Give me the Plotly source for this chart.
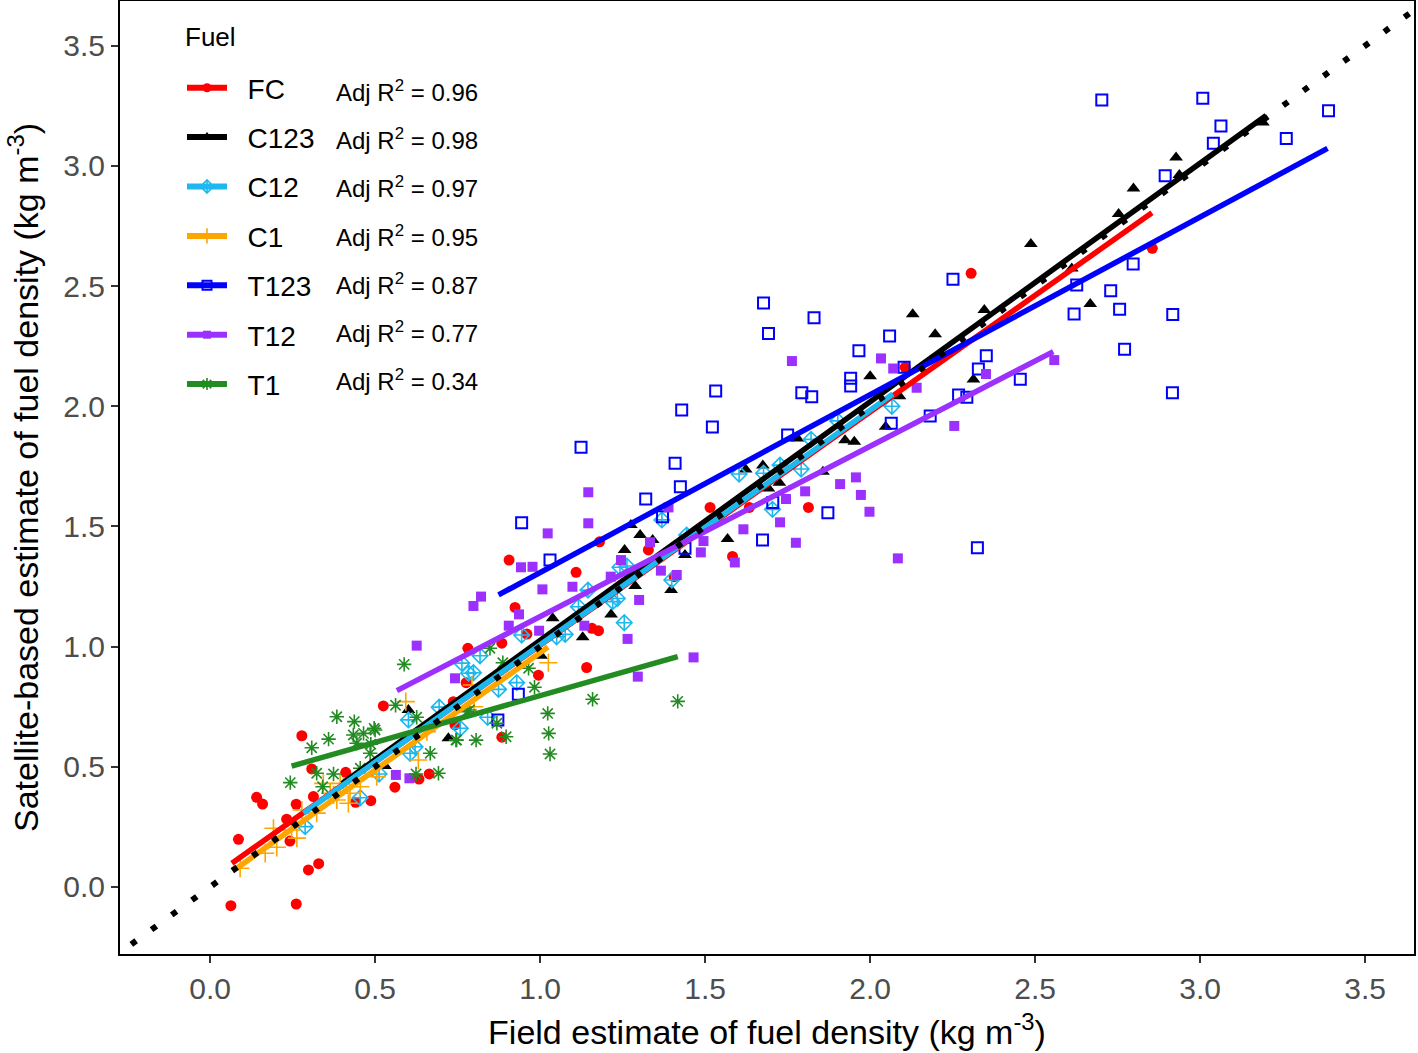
import plotly.graph_objects as go

# ---------------- data ----------------
groups = ["FC", "C123", "C12", "C1", "T123", "T12", "T1"]
adj_r2 = ["0.96", "0.98", "0.97", "0.95", "0.87", "0.77", "0.34"]
colors = ["#FF0000", "#000000", "#1DB8EE", "#FFA500", "#0000FF", "#9B30FF", "#228B22"]

fc_x = [0.525, 0.278, 0.308, 0.411, 0.141, 0.159, 0.261, 0.313, 0.232, 0.242, 0.086, 0.441, 0.487, 0.560,
        0.633, 0.664, 0.298, 0.329, 0.063, 0.261, 0.906, 0.924, 1.109, 1.18, 1.328, 1.515, 1.406, 1.157,
        1.177, 0.96, 0.781, 0.884, 0.995, 1.141, 0.776, 0.737, 0.742, 0.884, 1.583, 2.106, 2.306, 2.855,
        1.813, 1.634]
fc_y = [0.753, 0.629, 0.491, 0.477, 0.373, 0.345, 0.344, 0.376, 0.282, 0.191, 0.198, 0.352, 0.359, 0.415,
        0.449, 0.470, 0.071, 0.097, -0.078, -0.071, 1.36, 1.163, 1.309, 1.436, 1.402, 1.579, 1.291, 1.076,
        1.066, 1.052, 0.993, 1.014, 0.881, 0.913, 0.85, 0.771, 0.674, 0.623, 1.375, 2.162, 2.553, 2.657,
        1.579, 1.579]

c123_x = [0.601, 0.722, 0.53, 1.275, 1.303, 1.341, 1.256, 1.439, 1.397, 1.288, 1.215, 1.129, 1.038, 1.003,
          2.129, 2.346, 2.197, 2.0, 2.313, 2.089, 2.047, 1.78, 1.924, 1.952, 1.675, 1.623, 1.725, 1.692,
          1.857, 1.568, 2.927, 2.798, 2.753, 2.487, 2.937, 2.667, 2.611, 3.19]
c123_y = [0.736, 0.619, 0.503, 1.506, 1.464, 1.443, 1.402, 1.381, 1.235, 1.252, 1.134, 1.039, 1.118, 0.962,
          2.383, 2.4, 2.299, 2.125, 2.111, 2.042, 1.915, 1.866, 1.859, 1.852, 1.753, 1.737, 1.682, 1.658,
          1.727, 1.448, 3.035, 2.906, 2.8, 2.675, 2.962, 2.425, 2.573, 3.18]

c12_x = [0.694, 0.601, 0.606, 0.621, 0.512, 0.455, 0.288, 0.763, 0.783, 0.758, 1.369, 1.444, 1.242, 1.263,
         1.220, 1.234, 1.255, 1.399, 1.145, 1.116, 1.076, 1.05, 0.944, 0.818, 0.798, 0.929, 0.874, 0.841,
         1.603, 1.821, 1.791, 2.066, 1.704, 1.902, 1.727, 1.677]
c12_y = [0.748, 0.695, 0.556, 0.583, 0.47, 0.371, 0.251, 0.931, 0.889, 0.66, 1.527, 1.464, 1.330, 1.335,
         1.187, 1.2, 1.099, 1.277, 1.235, 1.166, 1.051, 1.041, 1.048, 0.962, 0.891, 0.85, 0.822, 0.706,
         1.718, 1.862, 1.739, 2.0, 1.571, 1.939, 1.755, 1.721]

c1_x = [0.593, 0.631, 0.404, 0.424, 0.455, 0.364, 0.384, 0.419, 0.343, 0.323, 0.505, 0.657, 0.192, 0.202,
        0.167, 0.263, 0.247, 0.091, 0.278, 0.374, 0.394, 1.025, 0.793, 0.8]
c1_y = [0.771, 0.528, 0.417, 0.39, 0.417, 0.39, 0.362, 0.348, 0.431, 0.307, 0.459, 0.646, 0.244, 0.165,
        0.14, 0.203, 0.237, 0.078, 0.32, 0.383, 0.431, 0.933, 0.84, 0.75]

t123_x = [0.944, 1.030, 1.320, 1.425, 1.371, 1.439, 0.934, 0.872, 1.429, 1.124, 1.409, 1.677, 1.83, 1.692,
          1.532, 1.522, 1.793, 1.823, 2.059, 1.966, 1.941, 1.941, 2.103, 2.352, 2.328, 2.268, 2.293, 2.182,
          2.064, 1.75, 1.872, 1.705, 1.674, 2.325, 2.702, 3.008, 3.063, 3.04, 3.261, 2.894, 2.251, 2.797,
          2.626, 2.729, 2.618, 2.756, 2.917, 2.771, 2.916, 2.455, 3.389]
t123_y = [1.515, 1.36, 1.614, 1.665, 1.54, 1.409, 0.802, 0.695, 1.984, 1.829, 1.763, 2.43, 2.368, 2.303,
          2.063, 1.914, 2.056, 2.039, 2.292, 2.231, 2.116, 2.084, 2.162, 2.21, 2.155, 2.047, 2.037, 1.959,
          1.929, 1.88, 1.557, 1.6, 1.443, 1.411, 3.274, 3.281, 3.166, 3.094, 3.114, 2.959, 2.528, 2.592,
          2.504, 2.481, 2.384, 2.403, 2.382, 2.237, 2.056, 2.112, 3.229]

t12_x = [0.626, 0.742, 0.563, 0.604, 1.146, 1.146, 1.023, 0.942, 0.977, 1.007, 1.098, 0.821, 0.798, 0.936,
         0.905, 0.997, 1.134, 1.245, 1.214, 1.3, 1.366, 1.333, 1.389, 1.495, 1.487, 1.414, 1.265, 1.465,
         1.296, 1.763, 2.033, 2.07, 2.141, 2.351, 2.255, 1.957, 1.909, 1.972, 1.998, 1.803, 1.745, 1.727,
         1.616, 1.775, 2.084, 2.558, 1.59]
t12_y = [1.004, 0.868, 0.466, 0.452, 1.642, 1.513, 1.471, 1.330, 1.332, 1.238, 1.249, 1.208, 1.169, 1.134,
         1.087, 1.066, 1.087, 1.36, 1.291, 1.194, 1.316, 1.434, 1.579, 1.439, 1.392, 1.298, 1.032, 0.955,
         0.875, 2.188, 2.199, 2.157, 2.077, 2.134, 1.918, 1.704, 1.676, 1.631, 1.561, 1.646, 1.614, 1.517,
         1.488, 1.432, 1.367, 2.192, 1.35]

t1_x = [0.588, 0.562, 0.384, 0.437, 0.5, 0.308, 0.359, 0.434, 0.465, 0.487, 0.243, 0.323, 0.374, 0.455,
        0.485, 0.626, 0.667, 0.692, 0.624, 0.341, 0.497, 0.444, 0.747, 0.778, 1.159, 1.417, 1.023, 1.026,
        1.03, 0.983, 0.965, 0.887, 0.848, 0.806, 0.745, 0.869, 0.897, 0.786]
t1_y = [0.926, 0.756, 0.708, 0.688, 0.653, 0.579, 0.615, 0.632, 0.639, 0.594, 0.434, 0.473, 0.470, 0.494,
        0.556, 0.706, 0.556, 0.473, 0.470, 0.417, 0.66, 0.598, 0.611, 0.729, 0.781, 0.772, 0.722, 0.639,
        0.553, 0.831, 0.91, 0.933, 0.993, 0.611, 0.611, 0.681, 0.625, 0.736]

# fitted regression line end points (x start, x end, y start, y end)
fit_x0 = [0.066, 0.40, 0.283, 0.081, 0.874, 0.566, 0.247]
fit_x1 = [2.854, 3.20, 2.069, 1.024, 3.386, 2.555, 1.417]
fit_y0 = [0.099, 0.43, 0.307, 0.078, 1.215, 0.817, 0.503]
fit_y1 = [2.805, 3.21, 2.051, 0.998, 3.073, 2.227, 0.958]

one_to_one = [-0.3, 3.7]

xs = [fc_x, c123_x, c12_x, c1_x, t123_x, t12_x, t1_x]
ys = [fc_y, c123_y, c12_y, c1_y, t123_y, t12_y, t1_y]

# ---------------- styles ----------------
symbols = ["circle", "triangle-up", "diamond-cross-open", "cross-thin-open", "square-open", "square",
           "asterisk-open"]
sizes = [11, 12, 12, 13, 11, 10, 12]
linew = [0, 0, 1.6, 1.6, 2, 0, 1.6]
FONT = "Arial, Liberation Sans, sans-serif"

fig = go.Figure()

for i, g in enumerate(groups):
    mk = dict(symbol=symbols[i], size=sizes[i], color=colors[i])
    if linew[i] > 0:
        mk["line"] = dict(color=colors[i], width=linew[i])
    fig.add_trace(go.Scatter(x=xs[i], y=ys[i], mode="markers", marker=mk, showlegend=False,
                             hoverinfo="skip"))

for i, g in enumerate(groups):
    fig.add_trace(go.Scatter(x=[fit_x0[i], fit_x1[i]], y=[fit_y0[i], fit_y1[i]], mode="lines",
                             line=dict(color=colors[i], width=5.5), showlegend=False, hoverinfo="skip"))

# 1:1 dotted line
fig.add_trace(go.Scatter(x=one_to_one, y=one_to_one, mode="lines",
                         line=dict(color="black", width=6, dash="6px,19px"), showlegend=False,
                         hoverinfo="skip"))

# legend entries
NB = "\u00a0\u00a0"
for i, g in enumerate(groups):
    mk = dict(symbol=symbols[i], size=sizes[i] - 2, color=colors[i])
    if linew[i] > 0:
        mk["line"] = dict(color=colors[i], width=linew[i])
    fig.add_trace(go.Scatter(x=[None], y=[None], mode="lines+markers", name=NB + g, marker=mk,
                             line=dict(color=colors[i], width=6), legendgroup=g, showlegend=True))

# legend title
fig.add_annotation(xref="paper", yref="paper", x=(183 - 120) / 1294, y=(954 - 37) / 953,
                   xanchor="left", yanchor="middle", showarrow=False, text="Fuel",
                   font=dict(family=FONT, size=26, color="black"))

# R^2 annotations beside legend entries
for i, r in enumerate(adj_r2):
    py = 91 + i * 48.2
    fig.add_annotation(xref="paper", yref="paper", x=(334 - 120) / 1294, y=(954 - py) / 953,
                       xanchor="left", yanchor="middle", showarrow=False,
                       text="Adj R<sup>2</sup> = " + r, font=dict(family=FONT, size=24, color="black"))

axis_common = dict(showline=True, linecolor="black", linewidth=2, mirror=True, ticks="outside",
                   ticklen=7, tickwidth=1.5, tickcolor="#333333", showgrid=False, zeroline=False,
                   tickfont=dict(family=FONT, size=30, color="#4D4D4D"), tickformat=".1f", dtick=0.5,
                   automargin=False)

fig.update_xaxes(range=[-0.273, 3.648], tick0=0,
                 title=dict(text="Field estimate of fuel density (kg m<sup>-3</sup>)",
                            font=dict(family=FONT, size=34, color="black"), standoff=16),
                 **axis_common)
fig.update_yaxes(range=[-0.279, 3.686], tick0=0,
                 title=dict(text="Satellite-based estimate of fuel density (kg m<sup>-3</sup>)",
                            font=dict(family=FONT, size=34, color="black"), standoff=14),
                 **axis_common)

fig.update_layout(
    width=1418, height=1053,
    margin=dict(l=120, r=4, t=1, b=99),
    plot_bgcolor="white", paper_bgcolor="white",
    font=dict(family=FONT),
    legend=dict(x=(182 - 120) / 1294, y=(954 - 63) / 953, xanchor="left", yanchor="top",
                bgcolor="rgba(0,0,0,0)",
                font=dict(family=FONT, size=28, color="black"), tracegroupgap=10,
                itemwidth=40),
)

fig.write_html("out.html", config={"displayModeBar": False},
               post_script="document.body.style.margin='0px';")
